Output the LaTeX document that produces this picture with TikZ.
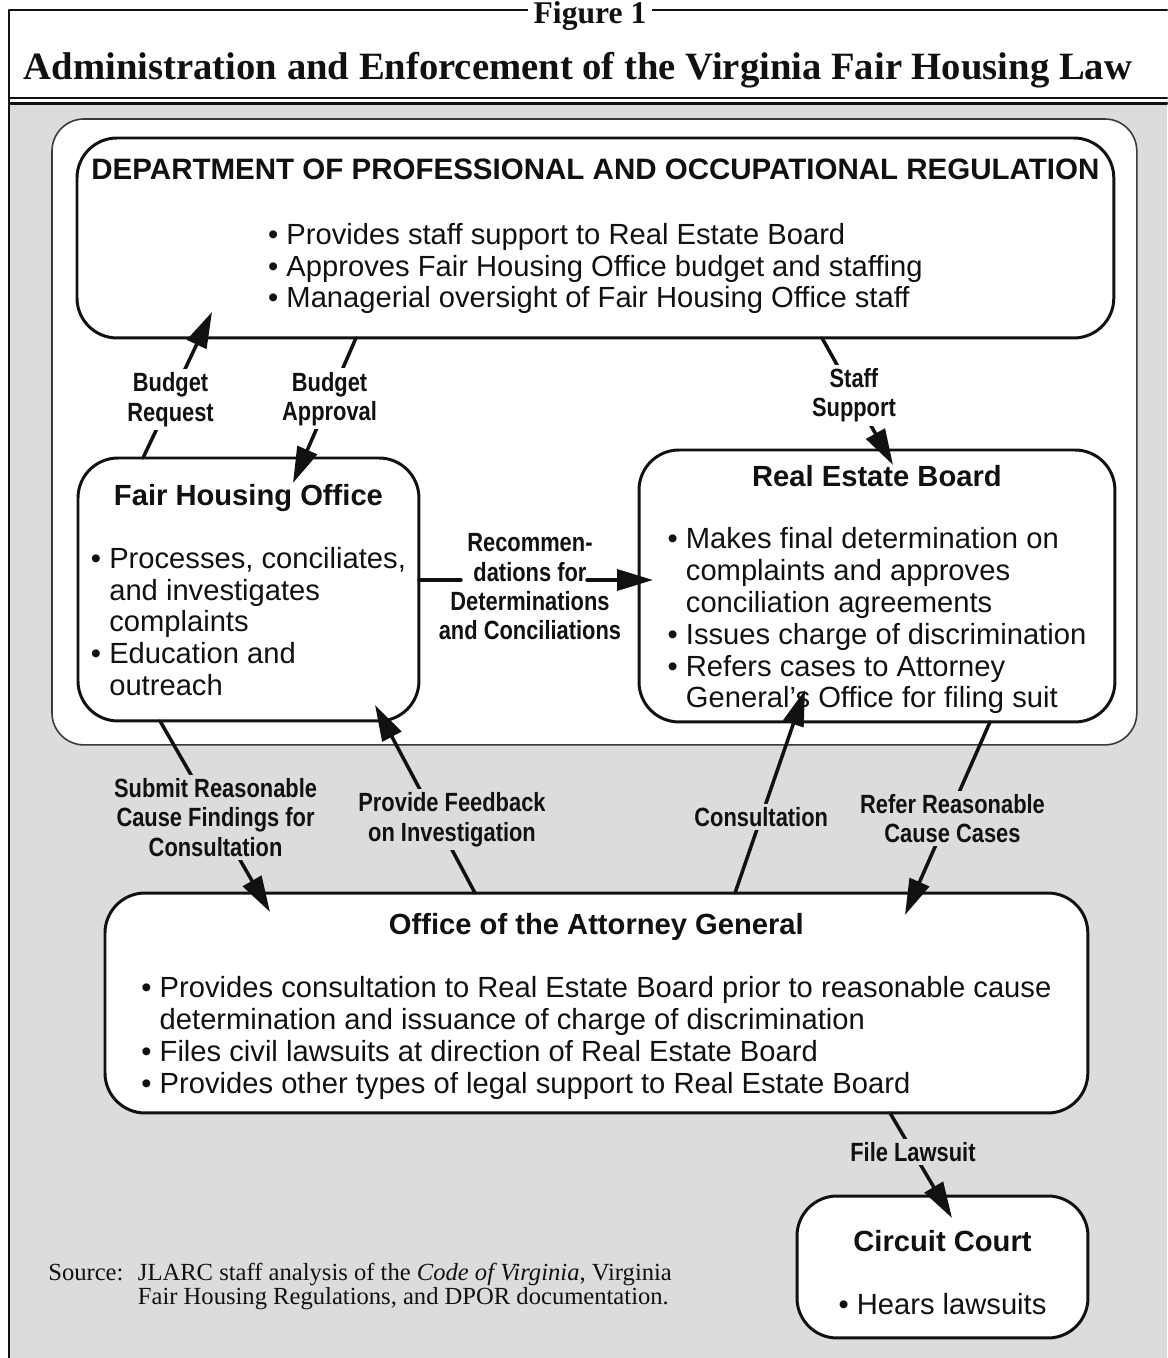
\documentclass[tikz,border=0pt]{standalone}
\usepackage{fontspec}
\setmainfont{Liberation Serif}
\setsansfont{Liberation Sans}
\newfontfamily\lblfont[FakeStretch=0.83]{Liberation Sans Bold}
\usetikzlibrary{arrows.meta,positioning,calc}
\definecolor{ink}{HTML}{111111}
\definecolor{screen}{HTML}{DCDCDC}
\definecolor{rim}{HTML}{3A3A3A}
\newcommand\boxhead[1]{{\bfseries\rule{0pt}{18pt}#1}}

\begin{document}
\begin{tikzpicture}[
  x=0.02cm, y=-0.02cm,
  font=\sffamily\fontsize{16.6}{18.1}\selectfont,
  line cap=round,
  line join=round,
  every node/.style={
    align=center,
    text=ink,
  },
  frame/.style={
    draw=ink,
    line width=1.3pt,
  },
  panel/.style={
    draw=rim,
    fill=white,
    line width=0.9pt,
    rounded corners=0.64cm,
    inner sep=0pt,
    outer sep=0pt,
    anchor=north west,
  },
  box/.style={
    draw=ink,
    fill=white,
    line width=1.7pt,
    rounded corners=0.8cm,
    inner sep=0pt,
    outer sep=0pt,
    anchor=north west,
  },
  wire/.style={
    draw=ink,
    line width=2pt,
  },
  arr/.style={
    wire,
    -{Triangle[length=0.72cm,width=0.42cm]},
  },
  lbl/.style={
    font=\lblfont\fontsize{15}{16.7}\selectfont,
    inner sep=2pt,
  },
  lblw/.style={lbl, fill=white},
  lblg/.style={lbl, fill=screen},
]

\useasboundingbox (0,0) rectangle (1167,1358);

% --- frame ---
\fill[screen] (10,104) rectangle (1167,1358);
\draw[frame] (1167,10) -- (9,10) -- (9,1358);
\draw[frame] (9,98) -- (1167,98);
\draw[frame] (9,103.5) -- (1167,103.5);

\node[font=\rmfamily\bfseries\fontsize{18}{18}\selectfont, fill=white,
  inner xsep=3pt, inner ysep=0pt, anchor=base] (fig) at (590,24) {Figure 1};
\node[font=\rmfamily\bfseries\fontsize{22}{24}\selectfont, anchor=base]
  (title) at (578,80) {Administration and Enforcement of the Virginia Fair Housing Law};

% --- boxes ---
\node[panel, minimum width=21.7cm, minimum height=12.52cm] (panel) at (52,119) {};

\node[box, minimum width=20.74cm, minimum height=4cm] (dpor) at (77,138) {
  {\bfseries\fontsize{16.8}{18.1}\selectfont DEPARTMENT OF PROFESSIONAL AND OCCUPATIONAL REGULATION}\\[19pt]
  \begin{tabular}[t]{@{}l@{}}
    \textbullet\ Provides staff support to Real Estate Board\\
    \textbullet\ Approves Fair Housing Office budget and staffing\\
    \textbullet\ Managerial oversight of Fair Housing Office staff
  \end{tabular}
};

\node[box, minimum width=6.82cm, minimum height=5.26cm] (fho) at (78,458) {
  \boxhead{Fair Housing Office}\\[17.6pt]
  \begin{tabular}[t]{@{}l@{\ }l@{}}
    \textbullet & Processes, conciliates,\\
    & and investigates\\
    & complaints\\
    \textbullet & Education and\\
    & outreach
  \end{tabular}
};

\node[box, minimum width=9.52cm, minimum height=5.44cm] (reb) at (639,450) {
  \boxhead{Real Estate Board}\\[17.6pt]
  \begin{tabular}[t]{@{}l@{\ }l@{}}
    \textbullet & Makes final determination on\\
    & complaints and approves\\
    & conciliation agreements\\
    \textbullet & Issues charge of discrimination\\
    \textbullet & Refers cases to Attorney\\
    & General's Office for filing suit
  \end{tabular}
};

\node[box, minimum width=19.66cm, minimum height=4.4cm] (oag) at (105,893) {
  \boxhead{Office of the Attorney General}\\[17.6pt]
  \begin{tabular}[t]{@{}l@{\ }l@{}}
    \textbullet & Provides consultation to Real Estate Board prior to reasonable cause\\
    & determination and issuance of charge of discrimination\\
    \textbullet & Files civil lawsuits at direction of Real Estate Board\\
    \textbullet & Provides other types of legal support to Real Estate Board
  \end{tabular}
};

\node[box, minimum width=5.82cm, minimum height=2.84cm] (court) at (797,1196) {
  \boxhead{Circuit Court}\\[17.6pt]
  \textbullet\ Hears lawsuits
};

% --- arrows ---
\draw[arr] ($(fho.north west)+(65,0)$) --
  node[lblw, pos=0.4] (breq) {Budget\\Request}
  ($(dpor.south west)+(135,-26)$);

\draw[arr] ($(dpor.south west)+(279,0)$) --
  node[lblw, pos=0.42] (bapp) {Budget\\Approval}
  ($(fho.north west)+(215,25)$);

\draw[arr] ($(dpor.south west)+(745,0)$) --
  node[lblw, pos=0.45] (staff) {Staff\\Support}
  ($(reb.north west)+(254,15)$);

\coordinate (recL) at ($(fho.north east)+(42,122)$);
\coordinate (recR) at ($(reb.north west)+(-52,130)$);
\draw[wire] ($(fho.north east)+(0,122)$) -- (recL);
\draw[arr] (recR) -- ($(reb.north west)+(14,130)$);
\node[lbl] (rec) at ($(recL)!0.5!(recR)+(6,7)$)
  {Recommen-\\dations for\\Determinations\\and Conciliations};

\draw[arr] ($(fho.south west)+(82,0)$) --
  node[lblg, pos=0.505] (submit) {Submit Reasonable\\Cause Findings for\\Consultation}
  ($(oag.north west)+(165,19)$);

\draw[arr] ($(oag.north west)+(370,0)$) --
  node[lblg, pos=0.39, xshift=0.32cm] (feedback) {Provide Feedback\\on Investigation}
  ($(fho.south west)+(297,-16)$);

\draw[arr] ($(oag.north west)+(630,0)$) --
  node[lblg, pos=0.374] (consult) {Consultation}
  ($(reb.south west)+(166,-32)$);

\draw[arr] ($(reb.south west)+(351,0)$) --
  node[lblg, pos=0.5, xshift=0.1cm] (refer) {Refer Reasonable\\Cause Cases}
  ($(oag.north west)+(800,22)$);

\draw[arr] ($(oag.south west)+(785,0)$) --
  node[lblg, pos=0.37] (file) {File Lawsuit}
  ($(court.north west)+(155,22)$);

% --- source ---
\node[font=\rmfamily\fontsize{14}{13.6}\selectfont, anchor=base west, inner sep=0pt]
  (src) at (48,1280) {
  \begin{tabular}[t]{@{}p{51pt}@{}l@{}}
    Source: & JLARC staff analysis of the \textit{Code of Virginia}, Virginia\\
    & Fair Housing Regulations, and DPOR documentation.
  \end{tabular}
};

\end{tikzpicture}
\end{document}
